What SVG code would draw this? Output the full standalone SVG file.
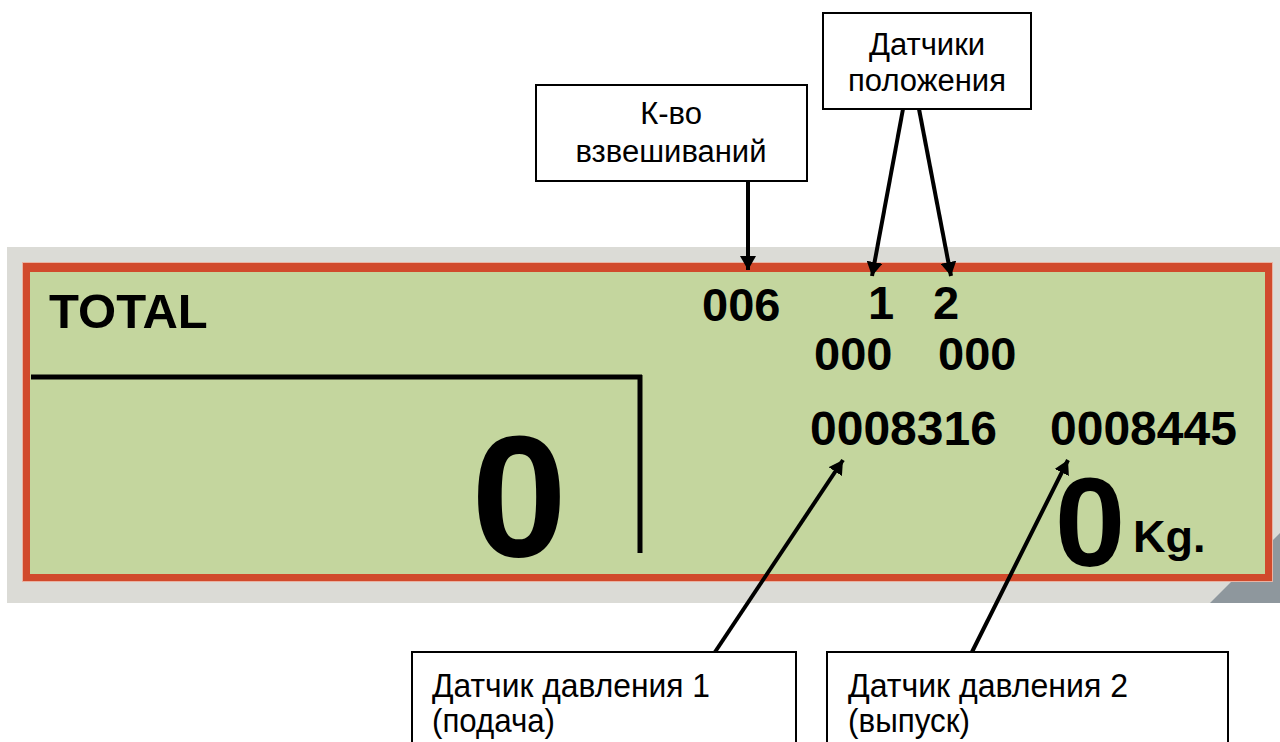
<svg xmlns="http://www.w3.org/2000/svg" width="1280" height="742" viewBox="0 0 1280 742">
<style>
.lbl{font-family:"Liberation Sans",Arial,sans-serif;fill:#000}
.box{fill:#fff;stroke:#000;stroke-width:2}
.num{font-family:"Liberation Sans",Arial,sans-serif;font-weight:bold;fill:#000}
.con{stroke:#000;stroke-width:4;fill:none}
</style>
<defs>
<marker id="ah" markerUnits="userSpaceOnUse" markerWidth="16" markerHeight="16" refX="14" refY="8" orient="auto">
<path d="M0,0 L14,8 L0,16 z" fill="#000"/>
</marker>
</defs>
<rect width="1280" height="742" fill="#fff"/>
<g id="display">
<rect x="7" y="247" width="1273" height="356" fill="#dbdbd6"/>
<polygon points="1210,603 1280,533 1280,603" fill="#8e979d"/>
<rect x="22" y="262" width="1251" height="320" fill="#e9b3a3"/>
<rect x="23" y="263" width="1249" height="318" fill="#d14a2c"/>
<rect x="30" y="272" width="1235" height="302" fill="#c4d69e"/>
<line x1="31" y1="377" x2="642" y2="377" stroke="#000" stroke-width="5"/>
<line x1="640" y1="375" x2="640" y2="553" stroke="#000" stroke-width="5"/>
<text class="num" x="49" y="328" font-size="49">TOTAL</text>
<text class="num" x="702" y="321" font-size="47">006</text>
<text class="num" x="881" y="319" font-size="47" text-anchor="middle">1</text>
<text class="num" x="946" y="319" font-size="47" text-anchor="middle">2</text>
<text class="num" x="814" y="370" font-size="47">000</text>
<text class="num" x="938" y="370" font-size="47">000</text>
<text class="num" x="810" y="445" font-size="48">0008316</text>
<text class="num" x="1050" y="445" font-size="48">0008445</text>
<text class="num" x="519" y="556" font-size="172" text-anchor="middle">0</text>
<text class="num" x="1090" y="566" font-size="127" text-anchor="middle">0</text>
<text class="num" x="1133" y="552" font-size="45">Kg.</text>
</g>
<g id="node-count">
<rect class="box" x="536" y="85" width="271" height="96"/>
<text class="lbl" x="671" y="124" font-size="31" text-anchor="middle">К-во</text>
<text class="lbl" x="671" y="162" font-size="31" text-anchor="middle">взвешиваний</text>
</g>
<g id="node-position">
<rect class="box" x="823" y="13" width="208" height="96"/>
<text class="lbl" x="927" y="55" font-size="31" text-anchor="middle">Датчики</text>
<text class="lbl" x="927" y="91" font-size="31" text-anchor="middle">положения</text>
</g>
<g id="node-pressure1">
<rect class="box" x="412" y="652" width="384" height="100"/>
<text class="lbl" x="432" y="697" font-size="34" textLength="278" lengthAdjust="spacingAndGlyphs">Датчик давления 1</text>
<text class="lbl" x="432" y="732" font-size="34" textLength="123" lengthAdjust="spacingAndGlyphs">(подача)</text>
</g>
<g id="node-pressure2">
<rect class="box" x="827" y="652" width="401" height="100"/>
<text class="lbl" x="848" y="697" font-size="34" textLength="280" lengthAdjust="spacingAndGlyphs">Датчик давления 2</text>
<text class="lbl" x="848" y="732" font-size="34" textLength="122" lengthAdjust="spacingAndGlyphs">(выпуск)</text>
</g>
<g id="connectors">
<line class="con" x1="748" y1="181" x2="748" y2="270" marker-end="url(#ah)"/>
<line class="con" x1="903" y1="109" x2="872" y2="276" marker-end="url(#ah)"/>
<line class="con" x1="919" y1="109" x2="951" y2="276" marker-end="url(#ah)"/>
<line class="con" x1="715" y1="652" x2="843" y2="460" marker-end="url(#ah)"/>
<line class="con" x1="972" y1="652" x2="1068" y2="460" marker-end="url(#ah)"/>
</g>
</svg>
